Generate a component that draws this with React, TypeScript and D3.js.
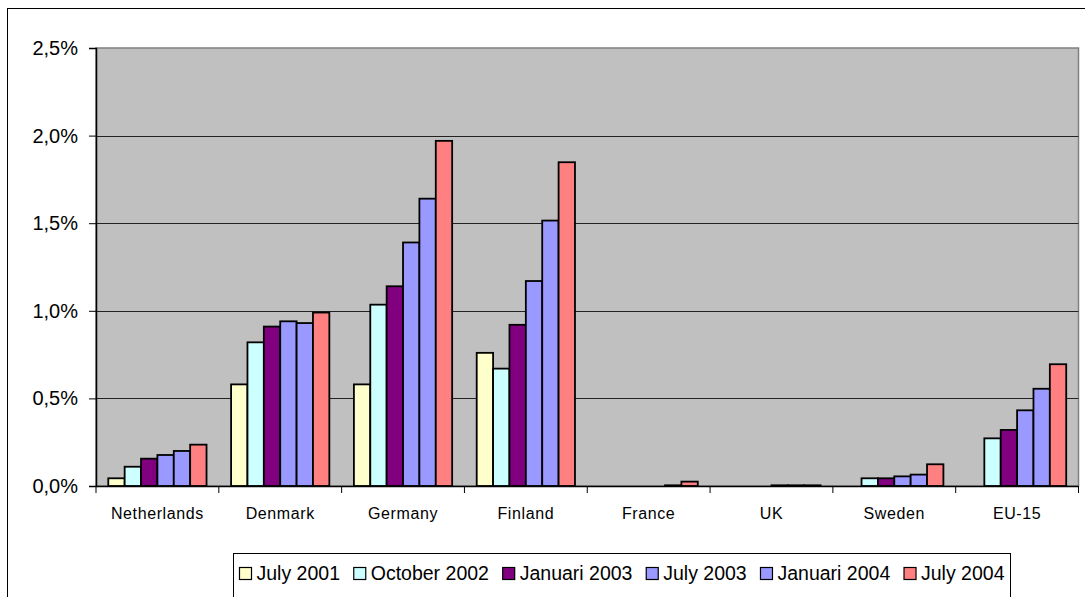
import React, { useRef, useEffect } from "react";
import * as d3 from "d3";

// data (values in %)
const countries = ["Netherlands", "Denmark", "Germany", "Finland", "France", "UK", "Sweden", "EU-15"];
const seriesNames = ["July 2001", "October 2002", "Januari 2003", "July 2003", "Januari 2004", "July 2004"];
const seriesColors = ["#FFFFCC", "#CCFFFF", "#800080", "#9999FF", "#9999FF", "#FF8080"];

const july2001 = [0.044, 0.58, 0.58, 0.76, null, null, null, null];
const october2002 = [0.11, 0.82, 1.035, 0.67, null, null, 0.044, 0.272];
const januari2003 = [0.156, 0.91, 1.14, 0.92, null, null, 0.044, 0.32];
const july2003 = [0.177, 0.94, 1.39, 1.17, null, 0.004, 0.055, 0.432];
const januari2004 = [0.2, 0.93, 1.64, 1.515, 0.004, 0.004, 0.065, 0.555];
const july2004 = [0.236, 0.99, 1.97, 1.848, 0.025, 0.004, 0.124, 0.695];

const seriesValues = [july2001, october2002, januari2003, july2003, januari2004, july2004];
const yTicks = [0, 0.5, 1.0, 1.5, 2.0, 2.5];

const W = 1085, H = 597;
const plot = { left: 96, top: 48, right: 1078.5, bottom: 486 };

const App = () => {
  const svgRef = useRef<SVGSVGElement>(null);

  useEffect(() => {
    const svg = d3.select(svgRef.current);
    svg.selectAll("*").remove();

    const font = "'Liberation Sans', Arial, sans-serif";

    // chart area border
    svg.append("rect")
      .attr("x", 7.5).attr("y", 8.5)
      .attr("width", 1200).attr("height", 800)
      .attr("fill", "#fff").attr("stroke", "#000");

    const x = d3.scaleBand().domain(countries).range([plot.left, plot.right]).paddingInner(0).paddingOuter(0);
    const xs = d3.scaleBand().domain(seriesNames).range([0, x.bandwidth()]).paddingInner(0).paddingOuter(0.75);
    const y = d3.scaleLinear().domain([0, 2.5]).range([plot.bottom, plot.top]);

    // plot area
    svg.append("rect")
      .attr("x", plot.left).attr("y", plot.top)
      .attr("width", plot.right - plot.left).attr("height", plot.bottom - plot.top)
      .attr("fill", "#C0C0C0").attr("stroke", "#808080").attr("stroke-width", 1.5);

    // gridlines
    svg.append("g")
      .selectAll("line")
      .data(yTicks.slice(1, -1))
      .enter()
      .append("line")
      .attr("x1", plot.left).attr("x2", plot.right)
      .attr("y1", (d) => Math.round(y(d)) + 0.5).attr("y2", (d) => Math.round(y(d)) + 0.5)
      .attr("stroke", "#222").attr("stroke-width", 1);

    // bars
    seriesValues.forEach((vals, si) => {
      svg.append("g")
        .selectAll("rect")
        .data(vals.map((v, i) => ({ v, c: countries[i] })).filter((d) => d.v != null))
        .enter()
        .append("rect")
        .attr("x", (d) => x(d.c)! + xs(seriesNames[si])!)
        .attr("y", (d) => y(d.v as number))
        .attr("width", xs.bandwidth())
        .attr("height", (d) => plot.bottom - y(d.v as number))
        .attr("fill", seriesColors[si])
        .attr("stroke", "#000")
        .attr("stroke-width", 1.8);
    });

    // Y axis
    const yAxis = svg.append("g")
      .attr("transform", `translate(${plot.left},0)`)
      .call(
        d3.axisLeft(y)
          .tickValues(yTicks)
          .tickSize(7)
          .tickPadding(11)
          .tickFormat((d) => (d as number).toFixed(1).replace(".", ",") + "%")
      );
    yAxis.select(".domain").attr("stroke", "#000").attr("stroke-width", 1.5);
    yAxis.selectAll("text").attr("font-family", font).attr("font-size", 20).attr("fill", "#000");

    // X axis
    const xAxis = svg.append("g")
      .attr("transform", `translate(0,${plot.bottom})`)
      .call(d3.axisBottom(x).tickSizeOuter(0).tickSize(0).tickPadding(22));
    xAxis.select(".domain").attr("stroke", "#000").attr("stroke-width", 1.5);
    xAxis.selectAll("text")
      .attr("font-family", font).attr("font-size", 16).attr("fill", "#000")
      .attr("letter-spacing", 0.6);
    // tick marks at category boundaries
    xAxis.selectAll("line.sep")
      .data(d3.range(countries.length + 1))
      .enter()
      .append("line")
      .attr("class", "sep")
      .attr("x1", (i) => plot.left + i * x.step()).attr("x2", (i) => plot.left + i * x.step())
      .attr("y1", 0).attr("y2", 7)
      .attr("stroke", "#000");

    // legend
    const lg = { x: 233.5, y: 553.5, w: 777, h: 50 };
    svg.append("rect")
      .attr("x", lg.x).attr("y", lg.y).attr("width", lg.w).attr("height", lg.h)
      .attr("fill", "#fff").attr("stroke", "#000");

    const items = svg.append("g");
    const texts: { node: SVGTextElement; w: number }[] = [];
    seriesNames.forEach((name) => {
      const t = items.append("text")
        .attr("font-family", font).attr("font-size", 19.5).attr("fill", "#000")
        .attr("y", 579.5).text(name);
      texts.push({ node: t.node() as SVGTextElement, w: (t.node() as SVGTextElement).getComputedTextLength() });
    });
    const sw = 12, swGap = 5;
    const totalText = d3.sum(texts, (t) => t.w) + seriesNames.length * (sw + swGap);
    const gap = (lg.w - 12 - totalText) / (seriesNames.length - 1);
    let cx = lg.x + 6;
    texts.forEach((t, i) => {
      items.append("rect")
        .attr("x", cx).attr("y", 567.5).attr("width", sw).attr("height", sw)
        .attr("fill", seriesColors[i]).attr("stroke", "#000").attr("stroke-width", 1.2);
      d3.select(t.node).attr("x", cx + sw + swGap);
      cx += sw + swGap + t.w + gap;
    });
  }, []);

  return (
    <svg
      ref={svgRef}
      width={W}
      height={H}
      style={{ position: "absolute", left: 0, top: 0, display: "block", background: "#fff" }}
    />
  );
};

export default App;
